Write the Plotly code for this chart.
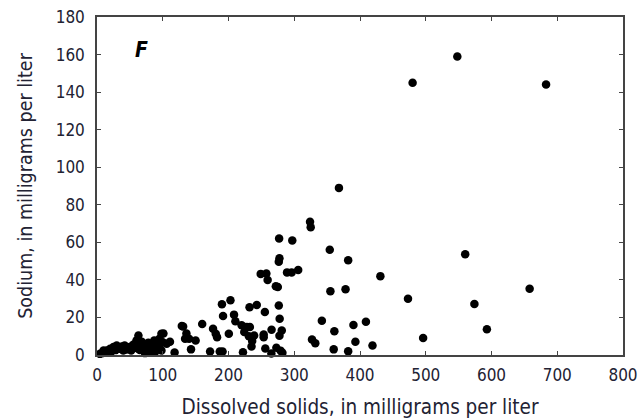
import plotly.graph_objects as go

# Dissolved solids (mg/L)
dissolved_solids = [
    4.5, 8, 10, 12, 15, 18, 20, 22, 25, 28, 30, 32, 35, 38, 40, 42, 45, 48, 50, 52,
    55, 58, 60, 62, 63, 65, 66, 68, 70, 70, 73, 75, 78, 80, 80, 83, 85, 87, 88, 90,
    92, 95, 96, 98, 98, 100, 101, 106, 111, 118,
    129, 131, 134, 136, 140, 143, 150, 160, 172, 176.5, 180.6, 182.6, 186.7, 190, 191, 191.7,
    200.5, 203,
    208.4, 210.5, 220, 222, 224, 228, 231, 232, 232.5, 235, 236, 239, 243, 249, 253.5, 253.5,
    255.3, 256, 257.6, 259.5, 265.2, 265.5, 272, 272.8, 275, 276.5, 276.5, 277, 277.5, 277.5,
    277.8, 279.3, 281, 282, 289, 296, 297, 306,
    324, 325, 327, 332, 342, 354, 355, 360, 361, 368, 378, 382, 382, 390, 393, 409, 419, 431,
    473, 480, 496, 548, 560, 574, 593, 658, 683,
]

# Sodium (mg/L)
sodium = [
    0.6, 1, 2.4, 1.2, 2.4, 1.5, 3.3, 2, 4.2, 2.6, 5.1, 3.5, 3.3, 4.5, 2.4, 5, 2.9, 4, 4.2, 2.4,
    5.5, 4.5, 7.7, 3.5, 10.4, 2.7, 5, 7.1, 5.3, 2.7, 1, 4, 6.5, 4.5, 1.8, 2.7, 5.5, 7.7, 1.5, 7.1,
    4.5, 8.6, 3, 11.3, 2.4, 6.8, 11.4, 6, 7, 1.3,
    15.5, 15.2, 8.6, 11.5, 8.6, 3, 7.7, 16.5, 1.9, 14, 11.3, 9.5, 1.9, 27, 1.9, 20.8,
    11.3, 29.1,
    21.5, 18, 15.8, 1.5, 12.2, 14.9, 10, 25.4, 14.9, 4.5, 7.5, 10.4, 26.6, 43.2, 10.9, 9.5,
    22.9, 3.5, 43.4, 40, 0.8, 13.5, 36.6, 3.9, 36.2, 26.4, 49.7, 62, 51.5, 10.2,
    19.3, 2.3, 13.1, 1.2, 44, 44, 61, 45.3,
    71, 68, 8.3, 6.3, 18.3, 56, 34, 3, 12.7, 89, 35, 50.5, 2, 16, 7, 17.7, 5, 42,
    30, 145, 9, 159, 53.7, 27.2, 13.7, 35.3, 144,
]

x_ticks = [0, 100, 200, 300, 400, 500, 600, 700, 800]
y_ticks = [0, 20, 40, 60, 80, 100, 120, 140, 160, 180]
panel_label = "F"
x_title = "Dissolved solids, in milligrams per liter"
y_title = "Sodium, in milligrams per liter"

FONT = "Liberation Sans Narrow, Arial Narrow, DejaVu Sans Condensed, Roboto, sans-serif"
TEXT = "#222233"
LINE = "#444444"

fig = go.Figure(
    go.Scatter(
        x=dissolved_solids,
        y=sodium,
        mode="markers",
        marker=dict(color="black", size=8.5, line=dict(width=0)),
        cliponaxis=False,
        showlegend=False,
    )
)

axis_common = dict(
    showgrid=False,
    zeroline=False,
    showline=True,
    linecolor=LINE,
    linewidth=1.5,
    mirror="ticks",
    ticks="inside",
    ticklen=4,
    tickwidth=1.2,
    tickcolor=LINE,
    tickfont=dict(family=FONT, size=17, color=TEXT),
    automargin=False,
)

fig.update_xaxes(
    range=[0, 800],
    tickvals=x_ticks,
    ticktext=[str(v) for v in x_ticks],
    title=dict(text=x_title, font=dict(family=FONT, size=20.5, color=TEXT), standoff=15),
    ticklabelstandoff=4,
    **axis_common,
)
fig.update_yaxes(
    range=[0, 180],
    tickvals=y_ticks,
    ticktext=[str(v) for v in y_ticks],
    title=dict(text=y_title, font=dict(family=FONT, size=19.5, color=TEXT), standoff=18),
    ticklabelstandoff=7,
    **axis_common,
)

fig.add_annotation(
    x=0.069, y=0.943, xref="paper", yref="paper",
    text="<b><i>" + panel_label + "</i></b>",
    showarrow=False,
    font=dict(family=FONT, size=21, color="black"),
)

fig.update_layout(
    width=638,
    height=420,
    margin=dict(l=97, r=15, t=17, b=65),
    paper_bgcolor="white",
    plot_bgcolor="white",
)

fig.write_html(
    "out.html",
    post_script="document.body.style.margin='0';document.body.style.overflow='hidden';",
)
